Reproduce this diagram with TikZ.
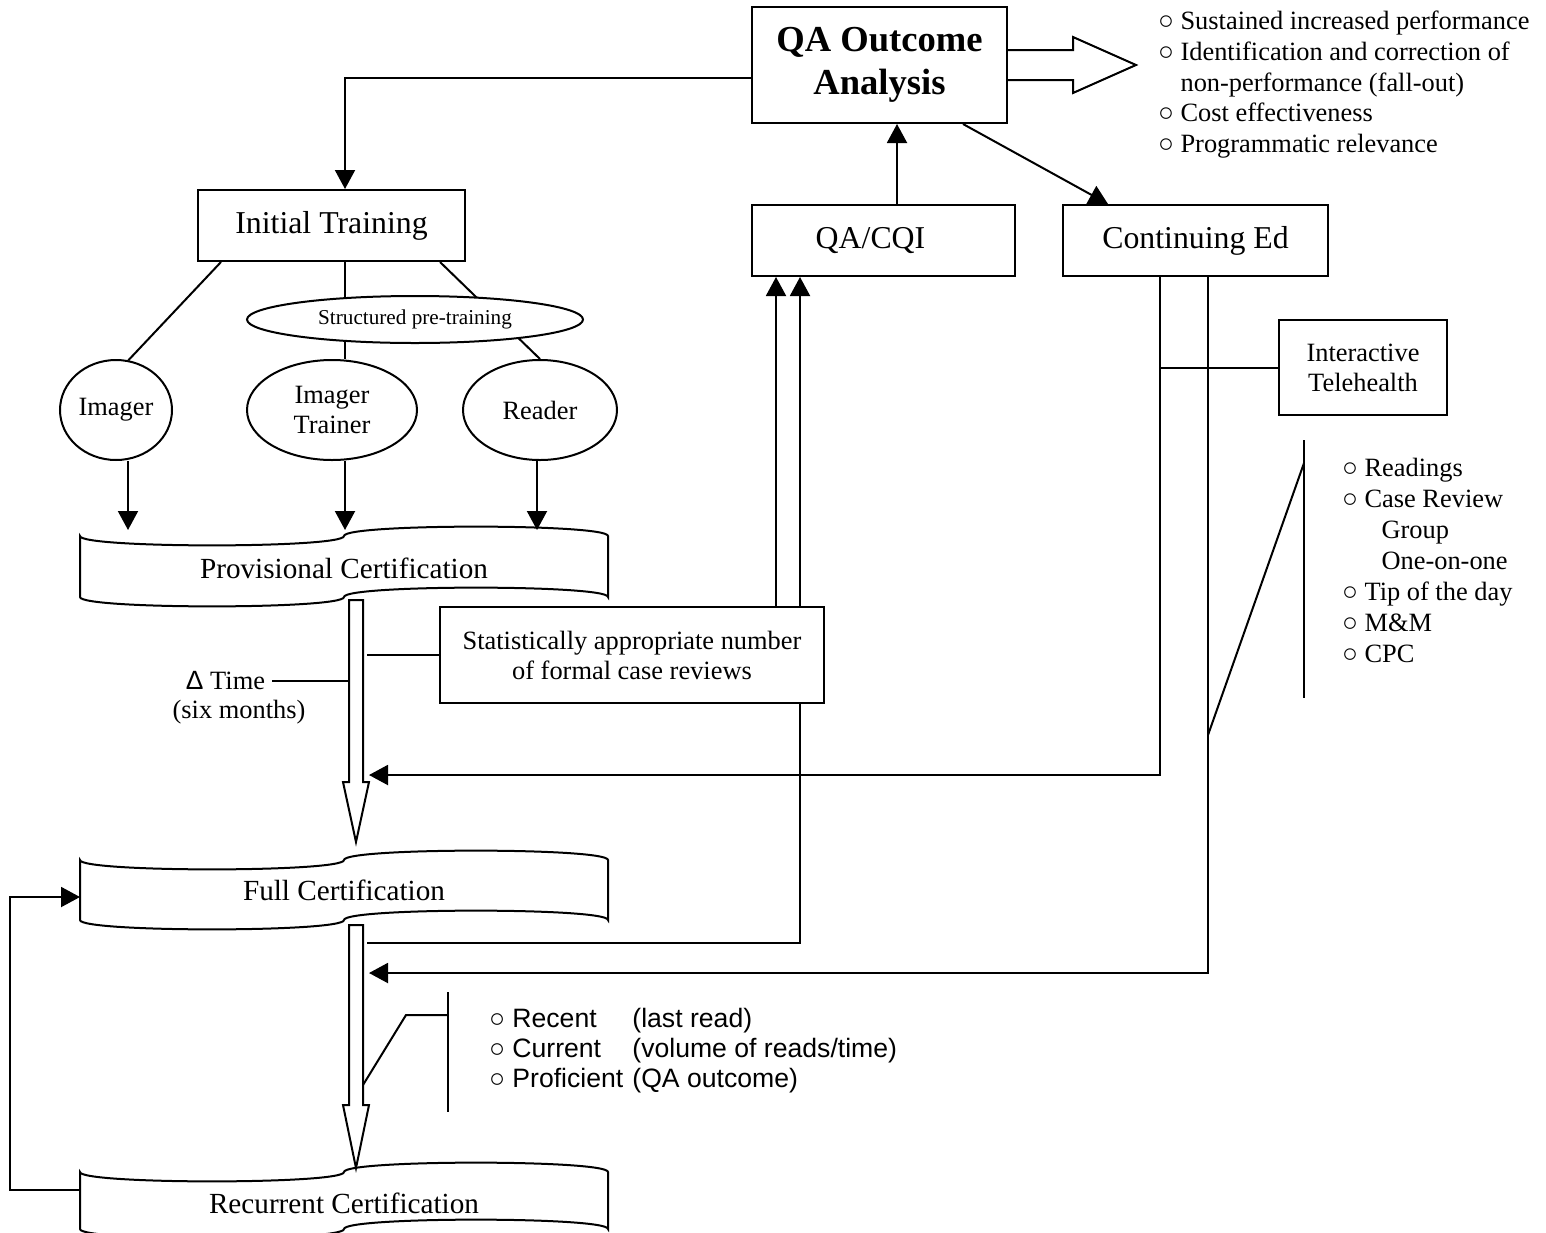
\documentclass[tikz,border=0pt]{standalone}
\usepackage{fontspec}
\setmainfont{Liberation Serif}
\newfontfamily\sansf{Liberation Sans}
\usetikzlibrary{arrows.meta,shapes.geometric,backgrounds}
\newcommand{\tapeshape}[4]{%
  \draw[fill=white] (#1,#3) .. controls (#1,{#3+12.5}) and ({(#1+#2)/2},{#3+12.5}) .. ({(#1+#2)/2},#3)
   .. controls ({(#1+#2)/2},{#3-12.5}) and (#2,{#3-12.5}) .. (#2,#3)
   -- (#2,#4) .. controls (#2,{#4-12.5}) and ({(#1+#2)/2},{#4-12.5}) .. ({(#1+#2)/2},#4)
   .. controls ({(#1+#2)/2},{#4+12.5}) and (#1,{#4+12.5}) .. (#1,#4) -- cycle;}
\begin{document}
\begin{tikzpicture}[x=0.5pt,y=-0.5pt,line width=1pt,
  tip/.style={-{Triangle[length=9.5pt,width=10pt]}},
  thickline/.style={line width=1pt},
  box/.style={draw,fill=white,inner sep=0pt,align=center,font=\fontsize{15.9}{18}\selectfont},
  ell/.style={draw,ellipse,fill=white,inner sep=0pt,align=center,font=\fontsize{13.2}{15}\selectfont},
  cert/.style={inner sep=0pt,font=\fontsize{14.6}{17}\selectfont},
  lst/.style={inner sep=0pt,align=left,anchor=north west,font=\fontsize{13.2}{15.4}\selectfont},
]
\path[use as bounding box] (0,0) rectangle (1546,1232);

% helper coordinates
\coordinate (y78) at (0,78);
\coordinate (x776) at (776,0);
\coordinate (x800) at (800,0);
\coordinate (x897) at (897,0);
\coordinate (x963) at (963,0);
\coordinate (x1108) at (1108,0);
\coordinate (x1160) at (1160,0);
\coordinate (x1208) at (1208,0);
\coordinate (shL) at (349,0);
\coordinate (shR) at (367,0);
\coordinate (pt1) at (128,530);
\coordinate (pt2) at (345,530);
\coordinate (pt3) at (537,530);
\coordinate (a1) at (369,775);
\coordinate (a2) at (369,973);
\coordinate (fc) at (367,943);
\coordinate (j1) at (1208,735);
\coordinate (j2) at (1304,463);
\coordinate (br1) at (1304,440);
\coordinate (br2) at (1304,698);
\coordinate (rb1) at (448,992);
\coordinate (rb2) at (448,1112);
\coordinate (rk) at (406,1015);
\coordinate (rs) at (363,1085);
\coordinate (rL) at (80,1190);
\coordinate (lx) at (10,1190);
\coordinate (fL) at (80,897);

% boxes
\node[box,minimum width=127.5pt,minimum height=58pt,font=\fontsize{18.3}{21.5}\selectfont\bfseries] (qa) at (879.5,65) {QA Outcome\\Analysis};
\node[box,minimum width=133.5pt,minimum height=35.5pt] (it) at (331.5,225.5) {Initial Training};
\node[box,minimum width=131.5pt,minimum height=35.5pt] (qacqi) at (883.5,240.5) {QA/CQI\hspace*{13pt}};
\node[box,minimum width=132.5pt,minimum height=35.5pt] (ced) at (1195.5,240.5) {Continuing Ed};
\node[box,minimum width=84pt,minimum height=47.5pt,font=\fontsize{13.2}{15}\selectfont] (tele) at (1363,367.5) {Interactive\\Telehealth};
\node[box,minimum width=192pt,minimum height=48pt,font=\fontsize{13.2}{15}\selectfont] (stat) at (632,655) {Statistically appropriate number\\of formal case reviews};

% ellipses
\node[ell,minimum width=168pt,minimum height=23.5pt,font=\fontsize{10.6}{12}\selectfont] (struct) at (415,319.5) {Structured pre-training};
\node[ell,minimum width=56pt,minimum height=50pt] (imager) at (116,410) {Imager};
\node[ell,minimum width=85pt,minimum height=50pt] (trainer) at (332,410) {Imager\\Trainer};
\node[ell,minimum width=77pt,minimum height=50pt] (reader) at (540,410) {Reader};

\begin{scope}[on background layer]
\draw[thickline] ([xshift=12pt]it.south west) -- (imager.76);
\draw[thickline] ([xshift=6.75pt]it.south) -- ([xshift=6.5pt]trainer.north);
\draw[thickline] ([xshift=54.25pt]it.south) -- (reader.north);
\end{scope}

% certification shapes
\tapeshape{80}{608}{536}{597}
\node[cert] (prov) at (344,568) {Provisional Certification};
\tapeshape{80}{608}{860}{920}
\node[cert] (full) at (344,890) {Full Certification};
\tapeshape{80}{608}{1172}{1229}
\node[cert] (recur) at (344,1203) {Recurrent Certification};

% block arrows
\draw[fill=white] (349,600) -- (349,782) -- (343,782) -- (356,842) -- (369,782) -- (363,782) -- (363,600) -- cycle;
\draw[fill=white] (349,925) -- (349,1105) -- (343,1105) -- (356,1168) -- (369,1105) -- (363,1105) -- (363,925) -- cycle;
\draw (qa.east) ++(0,-15) -- ++(65,0) -- ++(0,-13) -- ++(63,28) -- ++(-63,28) -- ++(0,-13) -- ++(-65,0);

% arrows
\draw[tip] (imager.south -| pt1) -- (pt1);
\draw[tip] (trainer.south -| pt2) -- (pt2);
\draw[tip] (reader.south -| pt3) -- (pt3);
\draw[tip] (qa.west |- y78) -| ([xshift=6.75pt]it.north);
\draw[tip] (qacqi.north -| x897) -- (qa.south -| x897);
\draw[tip] (qa.south -| x963) -- (ced.north -| x1108);
\draw[tip] (stat.north -| x776) -- (qacqi.south -| x776);
\draw[tip] (stat.north -| x800) -- (qacqi.south -| x800);
\draw (stat.south -| x800) |- (fc);
\draw (stat.west) -- (stat.west -| shR);
\draw[tip] (ced.south -| x1160) |- (a1);
\draw (tele.west) -- (tele.west -| x1160);
\draw[tip] (ced.south -| x1208) |- (a2);
\draw (j1) -- (j2);
\draw (br1) -- (br2);
\draw (rb1) -- (rb2);
\draw (rs) -- (rk) -- (rk -| rb1);
\draw[tip] (rL) -- (lx) |- (fL);

% delta time
\node[inner sep=0pt,anchor=east,font=\fontsize{13.2}{15}\selectfont] (dtime) at (266,681) {{\sansf Δ} Time};
\node[inner sep=0pt,font=\fontsize{13.2}{15}\selectfont] (six) at (239,712) {(six months)};
\draw ([xshift=3pt]dtime.east) -- (dtime.east -| shL);

% lists
\node[lst] (outl) at (1157,10) {○ Sustained increased performance\\○ Identification and correction of\\\hphantom{○ }non-performance (fall-out)\\○ Cost effectiveness\\○ Programmatic relevance};
\node[lst,font=\fontsize{13.2}{15.5}\selectfont] (tlist) at (1341,457) {○ Readings\\○ Case Review\\\hphantom{○ }\hspace*{8.5pt}Group\\\hphantom{○ }\hspace*{8.5pt}One-on-one\\○ Tip of the day\\○ M\&M\\○ CPC};
\node[lst,font=\sansf\fontsize{13.3}{15}\selectfont] (rlist) at (488,1007) {○ \makebox[60pt][l]{Recent}(last read)\\○ \makebox[60pt][l]{Current}(volume of reads/time)\\○ \makebox[60pt][l]{Proficient}(QA outcome)};
\end{tikzpicture}
\end{document}
